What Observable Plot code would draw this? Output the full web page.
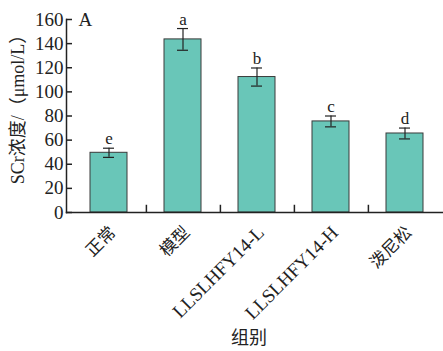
<!DOCTYPE html>
<html>
<head>
<meta charset="utf-8">
<script src="https://cdn.jsdelivr.net/npm/d3@7"></script>
<script src="https://cdn.jsdelivr.net/npm/@observablehq/plot@0.6"></script>
<style>
  html, body { margin: 0; padding: 0; background: #fff; }
  #chart svg { display: block; }
</style>
</head>
<body>
<div id="chart"></div>
<script>
// Serum creatinine by treatment group (mean ± error, significance letters)
const groups = ["正常", "模型", "LLSLHFY14-L", "LLSLHFY14-H", "泼尼松"];
const means = [49.5, 143.5, 112.3, 75.5, 65.5];
const errors = [3.8, 9.0, 7.5, 4.5, 4.5];
const sigLetters = ["e", "a", "b", "c", "d"];
const yTicks = [0, 20, 40, 60, 80, 100, 120, 140, 160];
const yTitle = "SCr浓度/（μmol/L）";
const xTitle = "组别";
const panelTag = "A";

const rows = groups.map((g, i) => ({
  group: g, mean: means[i], err: errors[i], letter: sigLetters[i]
}));

const font = "'Liberation Serif', 'Times New Roman', 'Noto Sans CJK SC', serif";
const barFill = "#69c6b8";
const ink = "#222";

const xRange = [69.6, 443.6];
const step = (xRange[1] - xRange[0]) / groups.length;
const isLatin = s => /^[\x00-\x7f]+$/.test(s);

const chart = Plot.plot({
  width: 443,
  height: 351,
  marginLeft: 66,
  marginRight: 0,
  marginTop: 19,
  marginBottom: 139,
  style: { fontFamily: font, fontSize: "19px", color: ink, background: "#fff" },
  x: { domain: groups, range: xRange, paddingInner: 0.5, paddingOuter: 0.25 },
  y: { domain: [0, 160] },
  marks: [
    Plot.barY(rows, {
      x: "group", y: "mean", fill: barFill, stroke: "#3a3a3a", strokeWidth: 1
    }),
    // error bars
    Plot.ruleX(rows, {
      x: "group", y1: d => d.mean - d.err, y2: d => d.mean + d.err,
      stroke: ink, strokeWidth: 1.2
    }),
    Plot.tickY(rows, {
      x: "group", y: d => d.mean + d.err, insetLeft: 13, insetRight: 13,
      stroke: ink, strokeWidth: 1.2
    }),
    Plot.tickY(rows, {
      x: "group", y: d => d.mean - d.err, insetLeft: 13, insetRight: 13,
      stroke: ink, strokeWidth: 1.2
    }),
    // significance letters
    Plot.text(rows, {
      x: "group", y: d => d.mean + d.err, text: "letter",
      lineAnchor: "bottom", dy: -4, fontSize: 17, fill: ink
    }),
    // axis lines
    Plot.frame({ anchor: "left", stroke: ink, strokeWidth: 1.5 }),
    Plot.frame({ anchor: "bottom", stroke: ink, strokeWidth: 1.5 }),
    // inward ticks between groups
    Plot.ruleX(groups.slice(0, -1), {
      x: d => d, y1: 0, y2: 6, dx: step / 2, stroke: ink, strokeWidth: 1.5
    }),
    Plot.axisY(yTicks, {
      tickSize: -6, tickPadding: 9, label: null, fontSize: 19,
      stroke: ink, strokeWidth: 1.5, fill: ink
    }),
    Plot.axisX({ ticks: [], label: null }),
    // rotated group labels
    Plot.text(groups, {
      x: d => d, frameAnchor: "bottom", rotate: -45, textAnchor: "end",
      lineAnchor: "middle", dx: 4, dy: 17,
      fontSize: d => (isLatin(d) ? 19 : 17), fill: ink
    }),
    Plot.text([xTitle], {
      frameAnchor: "bottom", text: d => d, dx: -6, dy: 126,
      textAnchor: "middle", lineAnchor: "middle", fontSize: 18, fill: ink
    }),
    Plot.text([yTitle], {
      frameAnchor: "left", text: d => d, rotate: -90, dx: -48, dy: -11,
      textAnchor: "middle", lineAnchor: "middle", fontSize: 18, fill: ink
    }),
    Plot.text([panelTag], {
      frameAnchor: "top-left", text: d => d, dx: 12, dy: 0,
      textAnchor: "start", lineAnchor: "middle", fontSize: 19, fill: ink
    })
  ]
});

document.getElementById("chart").append(chart);
</script>
</body>
</html>
